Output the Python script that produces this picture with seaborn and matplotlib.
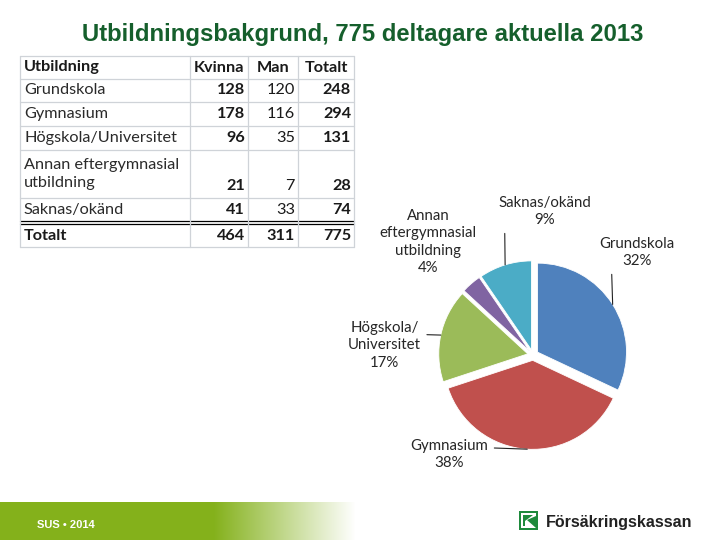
import numpy as np
import seaborn as sns
import matplotlib.pyplot as plt
from matplotlib.patches import Rectangle, Polygon

# data
utbildning = ["Grundskola", "Gymnasium", "Högskola/Universitet",
              "Annan eftergymnasial\nutbildning", "Saknas/okänd"]
kvinna = [128, 178, 96, 21, 41]
man = [120, 116, 35, 7, 33]
totalt = [248, 294, 131, 28, 74]
summa = [464, 311, 775]
pie_labels = ["Grundskola", "Gymnasium", "Högskola/\nUniversitet",
              "Annan\neftergymnasial\nutbildning", "Saknas/okänd"]
pie_pct = [32, 38, 17, 4, 9]

farger = ["#4F81BD", "#C0504D", "#9BBB59", "#8064A2", "#4BACC6"]
# label placement (in pie radius units), where the leader line leaves the label (None = no line)
label_xy = [(1.17, 1.15), (-0.94, -1.12), (-1.67, 0.11), (-1.18, 1.27), (0.13, 1.61)]
leader_rel = [(0.16, 0.0), (1.0, 0.72), (1.0, 0.72), None, (0.07, 0.0)]

sns.set_theme(style="white")
plt.rcParams['font.family'] = ['Lato', 'DejaVu Sans']

fig = plt.figure(figsize=(7.2, 5.4), dpi=100)
bg = fig.add_axes([0, 0, 1, 1])
bg.set_xlim(0, 720)
bg.set_ylim(540, 0)
bg.axis('off')

# title
bg.text(363, 34, "Utbildningsbakgrund, 775 deltagare aktuella 2013", ha='center', va='center',
        fontsize=17.2, weight='bold', color='#155f2c', family='Liberation Sans')

# table
col_edges = [20, 190, 248, 298, 354]
row_edges = [56, 79, 102, 126, 150, 198, 222, 247]
grid = '#cfd3d8'
for y in row_edges:
    if y == 222:
        bg.plot([20, 354], [221, 221], color='black', lw=0.9)
        bg.plot([20, 354], [224, 224], color='black', lw=0.9)
    else:
        bg.plot([20, 354], [y, y], color=grid, lw=0.9)
for x in col_edges:
    bg.plot([x, x], [56, 247], color=grid, lw=0.9)

fs = 11.7
hy = (row_edges[0] + row_edges[1]) / 2
bg.text(24, hy, "Utbildning", ha='left', va='center', fontsize=fs, weight='bold', color='#1a1a1a')
for j, h in enumerate(["Kvinna", "Man", "Totalt"]):
    bg.text((col_edges[j + 1] + col_edges[j + 2]) / 2, hy, h, ha='center', va='center',
            fontsize=fs, weight='bold', color='#1a1a1a')

num_x = [245, 295, 351]
for i, namn in enumerate(utbildning):
    top, bot = row_edges[i + 1], row_edges[i + 2]
    bg.text(24, (top + bot) / 2, namn, ha='left', va='center', fontsize=fs,
            color='#2a2a2a', linespacing=1.45)
    ny = bot - 11.5
    bg.text(num_x[0], ny, str(kvinna[i]), ha='right', va='center', fontsize=fs, weight='bold', color='#1a1a1a')
    bg.text(num_x[1], ny, str(man[i]), ha='right', va='center', fontsize=fs, color='#1a1a1a')
    bg.text(num_x[2], ny, str(totalt[i]), ha='right', va='center', fontsize=fs, weight='bold', color='#1a1a1a')

ty = (row_edges[-2] + row_edges[-1]) / 2 + 1
bg.text(24, ty, "Totalt", ha='left', va='center', fontsize=fs, weight='bold', color='#1a1a1a')
for j, v in enumerate(summa):
    bg.text(num_x[j], ty, str(v), ha='right', va='center', fontsize=fs, weight='bold', color='#1a1a1a')

# footer band
green = np.array([132, 177, 27]) / 255
xs = np.arange(720)
t = np.clip((xs - 213) / (355 - 213), 0, 1)[:, None]
band = green * (1 - t) + np.ones(3) * t
bg.imshow(band[None, :, :], extent=(0, 720, 540, 502), aspect='auto', zorder=0)
bg.set_xlim(0, 720)
bg.set_ylim(540, 0)
bg.text(37, 525, "SUS • 2014", ha='left', va='center', fontsize=8, weight='bold',
        color='white', family='Liberation Sans')

# logo
bg.add_patch(Rectangle((519, 511), 19, 19, facecolor='#1e8a3c', edgecolor='none', zorder=3))
bg.add_patch(Polygon([(521, 513), (536, 513), (536, 516), (527, 520), (536, 528), (521, 528)],
                     closed=True, facecolor='white', edgecolor='none', zorder=4))
bg.add_patch(Polygon([(523, 515), (533, 515), (525, 521), (525, 526), (523, 526)],
                     closed=True, facecolor='#1e8a3c', edgecolor='none', zorder=5))
bg.text(546, 522, "Försäkringskassan", ha='left', va='center', fontsize=11.5, weight='bold',
        color='#222222', family='Liberation Sans')

# pie
ax = fig.add_axes([355 / 720, 7 / 540, 356 / 720, 356 / 540])
ax.patch.set_alpha(0)
wedges, _ = ax.pie(totalt, colors=farger, startangle=90, counterclock=False,
                   explode=[0.06] * len(totalt),
                   wedgeprops=dict(edgecolor='white', linewidth=0.6))
ax.set_xlim(-2, 2)
ax.set_ylim(-2, 2)
ax.set_aspect('equal')
ax.axis('off')

for w, lab, p, pos, rel in zip(wedges, pie_labels, pie_pct, label_xy, leader_rel):
    mid = np.deg2rad((w.theta1 + w.theta2) / 2)
    cx, cy = w.center
    edge = (cx + w.r * np.cos(mid), cy + w.r * np.sin(mid))
    txt = f"{lab}\n{p}%"
    if rel is not None:
        ax.annotate(txt, xy=edge, xytext=pos, ha='center', va='center', fontsize=10.8,
                    color='#262626', linespacing=1.3,
                    arrowprops=dict(arrowstyle='-', color='#222222', lw=0.8,
                                    shrinkA=2, shrinkB=0, relpos=rel))
    else:
        ax.text(pos[0], pos[1], txt, ha='center', va='center', fontsize=10.8,
                color='#262626', linespacing=1.3)

fig.savefig('out.png', dpi=100)
plt.close()
